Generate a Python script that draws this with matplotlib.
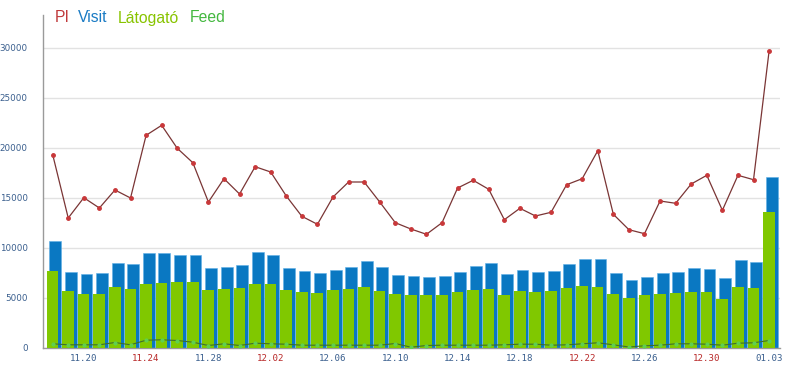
import matplotlib
matplotlib.use("Agg")
import matplotlib.pyplot as plt
import numpy as np

# ---- data -------------------------------------------------------------
dates = ["11.18", "11.19", "11.20", "11.21", "11.22", "11.23", "11.24", "11.25",
         "11.26", "11.27", "11.28", "11.29", "11.30", "12.01", "12.02", "12.03",
         "12.04", "12.05", "12.06", "12.07", "12.08", "12.09", "12.10", "12.11",
         "12.12", "12.13", "12.14", "12.15", "12.16", "12.17", "12.18", "12.19",
         "12.20", "12.21", "12.22", "12.23", "12.24", "12.25", "12.26", "12.27",
         "12.28", "12.29", "12.30", "12.31", "01.01", "01.02", "01.03"]

pi = [19300, 12950, 14980, 13950, 15750, 14950, 21220, 22220, 19920, 18480,
      14550, 16880, 15350, 18080, 17550, 15150, 13120, 12320, 15050, 16550,
      16550, 14550, 12480, 11850, 11320, 12480, 15950, 16720, 15820, 12780,
      13920, 13150, 13520, 16280, 16880, 19680, 13320, 11780, 11380, 14650,
      14420, 16350, 17220, 13720, 17220, 16780, 29650]

visit = [10680, 7580, 7380, 7480, 8420, 8320, 9420, 9420, 9220, 9220,
         7950, 8050, 8220, 9580, 9220, 7950, 7650, 7480, 7750, 8050,
         8650, 8020, 7220, 7150, 7050, 7150, 7580, 8150, 8420, 7320,
         7750, 7580, 7680, 8320, 8880, 8880, 7420, 6780, 7050, 7420,
         7520, 7980, 7880, 6980, 8720, 8580, 17020]

latogato = [7680, 5650, 5380, 5380, 6050, 5850, 6320, 6480, 6580, 6580,
            5750, 5850, 5950, 6380, 6380, 5750, 5550, 5480, 5750, 5850,
            6050, 5650, 5380, 5280, 5280, 5280, 5550, 5750, 5850, 5280,
            5650, 5550, 5680, 5950, 6150, 6050, 5320, 4950, 5220, 5320,
            5420, 5580, 5580, 4880, 6050, 5980, 13550]

feed = [370, 270, 270, 270, 500, 270, 730, 770, 700, 530,
        200, 370, 200, 430, 370, 330, 230, 230, 230, 230,
        230, 230, 400, 30, 200, 230, 230, 230, 230, 270,
        330, 330, 230, 270, 370, 470, 270, 50, 170, 230,
        370, 370, 330, 230, 430, 470, 700]

tick_labels = ["11.20", "11.24", "11.28", "12.02", "12.06", "12.10",
               "12.14", "12.18", "12.22", "12.26", "12.30", "01.03"]
red_labels = ["11.24", "12.02", "12.22", "12.30"]
y_ticks = [0, 5000, 10000, 15000, 20000, 25000, 30000]

legend_names = ["PI", "Visit", "Látogató", "Feed"]
legend_colors = ["#c0393b", "#1a7bc4", "#88c400", "#44b840"]

# ---- drawing ----------------------------------------------------------
W, H = 800, 366
fig = plt.figure(figsize=(W / 100, H / 100), dpi=100)
ax = fig.add_axes([43 / W, 18.5 / H, (780 - 43) / W, (347.5 - 15) / H])

x = np.arange(len(dates))
blue = "#0a78c2"
green = "#80c800"

ax.bar(x + 0.17, visit, width=0.76, color=blue, edgecolor="#5fb0e6",
       linewidth=0.4, zorder=2)
ax.bar(x - 0.01, latogato, width=0.75, color=green, edgecolor=green,
       linewidth=0, zorder=3)

ax.plot(x, pi, color="#7a3535", lw=0.9, zorder=4)
ax.plot(x, pi, ls="none", marker="o", ms=2.5, color="#c8383a", zorder=5)

ax.plot(x, feed, color="#3c6e30", lw=0.8, zorder=4)
ax.plot(x, feed, ls="none", marker="o", ms=2.0, color="#5fd050", zorder=5)

ax.set_xlim(-0.62, 46.7)
ax.set_ylim(0, 33250)

ax.set_yticks(y_ticks)
ax.set_yticklabels([str(v) for v in y_ticks])
ax.yaxis.grid(True, color="#e2e2e2", lw=1)
ax.set_axisbelow(True)

tick_pos = [dates.index(t) for t in tick_labels]
ax.set_xticks(tick_pos)
ax.set_xticklabels(tick_labels, family="DejaVu Sans Mono", fontsize=6.6)
for lbl in ax.get_xticklabels():
    lbl.set_color("#b82828" if lbl.get_text() in red_labels else "#3a5f8e")
for lbl in ax.get_yticklabels():
    lbl.set_color("#3a5f8e")
    lbl.set_fontsize(6.3)
    lbl.set_family("DejaVu Sans")

ax.tick_params(axis="both", length=0)
ax.tick_params(axis="x", pad=5)
ax.tick_params(axis="y", pad=11)

for s in ["top", "right"]:
    ax.spines[s].set_visible(False)
for s in ["left", "bottom"]:
    ax.spines[s].set_color("#9a9a9a")
    ax.spines[s].set_linewidth(1)

# legend as coloured words at the top
leg_x = [55, 78, 118, 190]
for name, col, px in zip(legend_names, legend_colors, leg_x):
    fig.text(px / W, 1 - 22.5 / H, name, color=col, fontsize=11.3,
             family="Liberation Sans", ha="left", va="baseline")

fig.savefig("out.png", dpi=100)
